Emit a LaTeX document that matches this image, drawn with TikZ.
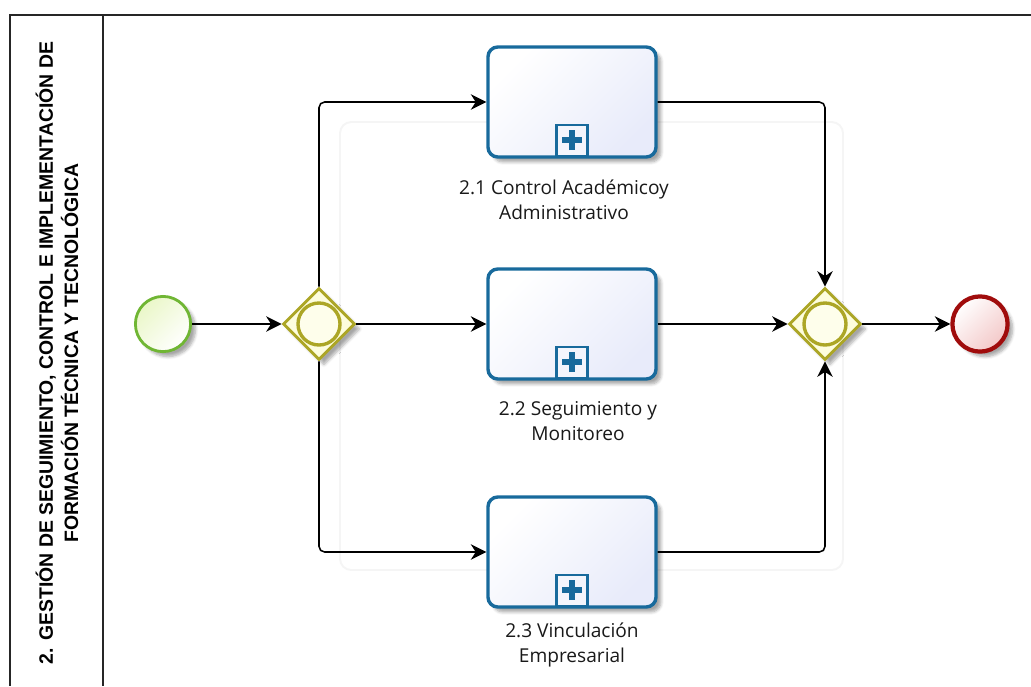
\documentclass[tikz,border=0pt]{standalone}
\usepackage{fontspec}
\setmainfont{Open Sans}
\newfontfamily\lanefont{Liberation Sans}
\usetikzlibrary{shapes.geometric,arrows.meta,shadows.blur}

\definecolor{taskblue}{RGB}{24,106,156}
\definecolor{taskfill}{RGB}{232,235,250}
\definecolor{gwolive}{RGB}{172,166,38}
\definecolor{gwfill}{RGB}{253,253,222}
\definecolor{startgreen}{RGB}{112,182,52}
\definecolor{startfill}{RGB}{234,247,200}
\definecolor{endred}{RGB}{160,12,12}
\definecolor{endfill}{RGB}{243,200,200}

\tikzset{
  frame/.style={draw=black!85, line width=1.3pt},
  ghost/.style={draw=black!4, line width=1.4pt},
  softshadow/.style={blur shadow={shadow xshift=3.5pt, shadow yshift=-3.5pt,
      shadow blur steps=6, shadow opacity=35}},
  lanetitle/.style={align=center, inner sep=0pt,
      font=\lanefont\bfseries\fontsize{13.8}{17.8}\selectfont},
  startev/.style={circle, draw=startgreen, line width=2pt, inner sep=0pt,
      minimum size=1.38cm, left color=startfill, right color=white, shading angle=45, softshadow},
  endev/.style={circle, draw=endred, line width=3pt, inner sep=0pt,
      minimum size=1.38cm, left color=white, right color=endfill, shading angle=45, softshadow},
  gateway/.style={diamond, aspect=1, draw=gwolive, line width=2pt, inner sep=0pt,
      minimum width=1.8cm, minimum height=1.8cm, fill=gwfill, softshadow},
  ring/.style={circle, draw=gwolive, line width=2.4pt, inner sep=0pt,
      minimum size=1.05cm, fill=gwfill!60!white},
  task/.style={rectangle, rounded corners=7pt, draw=taskblue, line width=2.4pt,
      minimum width=4.2cm, minimum height=2.75cm, inner sep=0pt,
      left color=white, right color=taskfill, shading angle=45, softshadow},
  marker/.style={rectangle, draw=taskblue, line width=1.6pt, fill=taskfill!50!white,
      minimum size=0.78cm, inner sep=0pt},
  plusarm/.style={draw=taskblue, line width=4pt},
  tasklabel/.style={align=center, inner sep=0pt, text=black!90,
      font=\fontsize{13.6}{17.8}\selectfont},
  flow/.style={draw=black, line width=1.1pt, rounded corners=4pt,
      -{Stealth[length=11pt, width=11pt, inset=3.5pt]}}
}

\begin{document}
\begin{tikzpicture}[x=0.025cm, y=-0.025cm]
\useasboundingbox (0,0) rectangle (1031,686);

% pool frame and lane header
\draw[frame] (1031,15) -- (10,15) -- (10,686);
\draw[frame] (103,15) -- (103,686);
\node[lanetitle, rotate=90] (lane) at (57,353)
  {2. GESTIÓN DE SEGUIMIENTO, CONTROL E IMPLEMENTACIÓN DE\\FORMACIÓN TÉCNICA Y TECNOLÓGICA};

% faint group outline behind the tasks
\draw[ghost, rounded corners=8pt] (340,122) rectangle (843,570);

% events and gateways
\node[startev] (s) at (163,324) {};
\node[gateway] (g1) at (319,324) {};
\node[ring] (g1r) at (g1.center) {};
\node[gateway] (g2) at (825,324) {};
\node[ring] (g2r) at (g2.center) {};
\node[endev] (e) at (980,324) {};

% collapsed sub-processes
\node[task] (t1) at (572,102) {};
\node[task] (t2) at (572,324) {};
\node[task] (t3) at (572,552) {};

\foreach \t in {t1,t2,t3}{
  \node[marker, anchor=south] (m\t) at ([yshift=1.2pt]\t.south) {};
  \draw[plusarm] ([xshift=-7pt]m\t.center) -- ([xshift=7pt]m\t.center);
  \draw[plusarm] ([yshift=-7pt]m\t.center) -- ([yshift=7pt]m\t.center);
}

\node[tasklabel] (l1) at (564,200) {2.1 Control Académicoy\\Administrativo};
\node[tasklabel] (l2) at (578,421) {2.2 Seguimiento y\\Monitoreo};
\node[tasklabel] (l3) at (572,645) {2.3 Vinculación\\Empresarial};

% sequence flows
\draw[flow] (s) -- (g1);
\draw[flow] (g1) -- (t2);
\draw[flow] (g1.north) |- (t1.west);
\draw[flow] (g1.south) |- (t3.west);
\draw[flow] (t2) -- (g2);
\draw[flow] (t1.east) -| (g2.north);
\draw[flow] (t3.east) -| (g2.south);
\draw[flow] (g2) -- (e);
\end{tikzpicture}
\end{document}
